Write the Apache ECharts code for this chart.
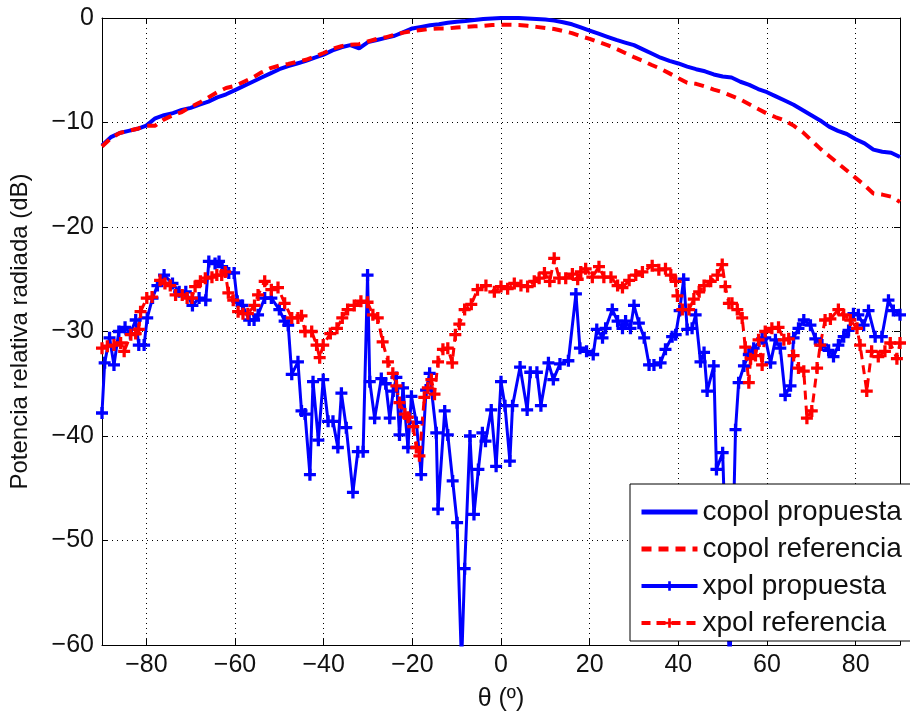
<!DOCTYPE html>
<html>
<head>
<meta charset="utf-8">
<script src="https://cdn.jsdelivr.net/npm/echarts@6/dist/echarts.min.js"></script>
<style>
  html, body { margin: 0; padding: 0; background: #fff; }
  #chart { width: 910px; height: 717px; }
</style>
</head>
<body>
<div id="chart"></div>
<script>
// copol cuts, 2 deg step
var thetaCopol = [-90,-88,-86,-84,-82,-80,-78,-76,-74,-72,-70,-68,-66,-64,-62,-60,-58,-56,-54,-52,
    -50,-48,-46,-44,-42,-40,-38,-36,-34,-32,-30,-28,-26,-24,-22,-20,-18,-16,-14,-12,
    -10,-8,-6,-4,-2,0,2,4,6,8,10,12,14,16,18,20,22,24,26,28,
    30,32,34,36,38,40,42,44,46,48,50,52,54,56,58,60,62,64,66,68,
    70,72,74,76,78,80,82,84,86,88,90];
var copolPropuesta = [-12.2,-11.4,-11.0,-10.8,-10.6,-10.3,-9.6,-9.3,-9.1,-8.8,-8.6,-8.3,-8.0,-7.6,-7.3,-6.9,-6.5,-6.1,-5.7,-5.3,
    -4.9,-4.6,-4.35,-4.1,-3.8,-3.5,-3.1,-2.8,-2.6,-2.9,-2.3,-2.1,-1.9,-1.7,-1.35,-1.0,-0.85,-0.7,-0.6,-0.45,
    -0.35,-0.28,-0.2,-0.1,-0.05,0,0,0,-0.05,-0.1,-0.15,-0.25,-0.4,-0.6,-0.9,-1.2,-1.5,-1.8,-2.1,-2.35,
    -2.6,-3.0,-3.4,-3.8,-4.1,-4.35,-4.65,-4.9,-5.1,-5.4,-5.6,-5.7,-6.1,-6.4,-6.8,-7.1,-7.5,-7.9,-8.3,-8.8,
    -9.3,-9.8,-10.4,-10.8,-11.1,-11.6,-12.0,-12.6,-12.8,-12.9,-13.3];
var copolReferencia = [-12.3,-11.5,-11.0,-10.8,-10.6,-10.3,-10.3,-9.7,-9.3,-9.0,-8.5,-8.1,-7.6,-7.1,-6.7,-6.5,-6.1,-5.7,-5.2,-4.8,
    -4.55,-4.4,-4.2,-4.0,-3.7,-3.35,-2.95,-2.7,-2.55,-2.5,-2.25,-2.0,-1.85,-1.6,-1.4,-1.25,-1.15,-1.05,-1.0,-1.0,
    -0.9,-0.85,-0.8,-0.75,-0.67,-0.65,-0.65,-0.67,-0.75,-0.85,-0.95,-1.05,-1.25,-1.45,-1.75,-2.0,-2.3,-2.6,-2.95,-3.35,
    -3.75,-4.1,-4.5,-4.85,-5.3,-5.75,-6.2,-6.3,-6.55,-6.85,-7.1,-7.45,-7.8,-8.25,-8.7,-9.15,-9.5,-9.8,-10.3,-10.9,
    -11.7,-12.5,-13.2,-13.9,-14.6,-15.3,-16.0,-16.8,-16.9,-17.1,-17.6];

// xpol propuesta
var thetaXpolProp = [-90,-89.4,-88.3,-87.3,-86.2,-84.8,-83.6,-82.4,-81.7,-80.5,-79.8,-78.6,-77.5,-76,-74.1,-72.6,-71.1,-69.6,-68.1,-66.6,
    -65.9,-64.5,-63.6,-62.9,-61.4,-60.2,-59.5,-58.3,-56.8,-55.7,-54.8,-53.3,-51.8,-50,-48.8,-48,-47.2,-45.8,-45,-44.2,
    -43.1,-42.4,-41.2,-40.1,-39,-37.9,-36.8,-36,-34.9,-33.4,-32.3,-31.1,-30.1,-29.6,-28.5,-27,-26,-25.1,-24.3,-23.6,
    -22.9,-22.1,-21,-20.2,-19.1,-18,-16.9,-16.1,-14.6,-14.2,-12.7,-12,-10.9,-9.9,-8.9,-8.2,-7,-6.1,-5.1,-4.2,
    -3.5,-2.2,-1.1,0,0.9,2,2.6,4.3,5.9,6.6,8.1,9,10.7,11.8,13.3,15.2,16.9,17.8,19.3,20.8,
    21.6,22.9,23.6,25.1,26.3,27.4,28.1,29.2,30,31.1,32.3,33.4,34.5,36,37.1,38.6,39.4,40.3,41.2,42,
    43.1,43.9,45,45.8,46.5,48,48.6,50,51.6,52.9,53.6,54.8,55.9,57,58.9,59.6,60.8,61.9,63,64.1,
    65.3,66,67.1,68.3,69.8,70.9,72.4,73.9,75,76.1,77.3,78.4,79.5,80.6,81.8,82.9,84.4,85.9,87.4,88.5,90];
var xpolPropuesta = [-37.8,-33.0,-30.6,-33.2,-30.0,-29.6,-30.2,-28.9,-31.3,-31.3,-28.7,-26.8,-25.6,-24.6,-25.4,-26.2,-26.2,-27.5,-26.8,-27.0,
    -23.3,-23.5,-23.3,-23.8,-24.4,-24.4,-27.1,-27.5,-28.9,-28.9,-28.4,-26.8,-26.8,-27.9,-29.0,-29.4,-34.1,-32.9,-37.6,-37.9,
    -43.7,-34.8,-40.4,-34.6,-38.6,-38.6,-41.1,-35.9,-39.2,-45.4,-41.5,-41.5,-24.6,-34.8,-38.3,-34.5,-35.0,-38.3,-35.7,-34.4,
    -39.9,-35.4,-41.1,-36.2,-38.7,-43.7,-35.6,-34.0,-39.7,-47.0,-37.6,-39.9,-44.3,-48.3,-62,-52.7,-40.0,-47.5,-43.2,-39.7,
    -40.5,-37.5,-42.9,-34.8,-37.1,-42.4,-37.1,-33.4,-37.5,-33.9,-33.9,-37.1,-33.0,-34.6,-33.1,-32.8,-26.4,-31.6,-31.9,-32.2,
    -29.8,-30.6,-29.7,-27.9,-29.0,-29.7,-29.0,-29.7,-27.5,-29.2,-30.6,-33.2,-33.2,-33.0,-31.7,-30.5,-30.3,-28.0,-25.0,-29.8,
    -29.7,-28.4,-32.9,-32.0,-35.7,-33.3,-43.2,-41.6,-63,-39.4,-34.9,-33.3,-32.2,-31.6,-30.7,-30.6,-33.0,-30.8,-31.6,-36.1,
    -35.2,-30.6,-29.7,-28.9,-29.4,-30.7,-31.3,-31.8,-32.4,-31.3,-30.5,-29.9,-28.3,-28.4,-29.4,-28.0,-30.5,-30.5,-27.0,-28.0,-28.4];

// xpol referencia
var thetaXpolRef = [-90,-88.8,-87.3,-85.8,-85,-83.5,-82.4,-81.7,-81.3,-79.9,-78.7,-76.9,-75.8,-74.6,-73.4,-71.9,-70.8,-69.7,-69,-67.8,
    -66.7,-65.2,-64.1,-63,-62.2,-61.5,-60.4,-59.3,-58.2,-57.1,-55.6,-54.8,-53.3,-51.8,-50.3,-48.8,-47.2,-45.8,-45,-44.2,
    -42.7,-41.6,-40.9,-40.1,-38.5,-37,-35.8,-34.6,-33.1,-31.6,-30.1,-28.9,-27.8,-26.7,-25.5,-24.4,-23.6,-22.9,-21.7,-21,
    -19.8,-19.1,-18.4,-17.3,-16.5,-15.7,-15,-14.2,-13.1,-12,-11,-10.3,-9.4,-8.2,-6.7,-5.3,-3.4,-1.5,0,1.5,
    3,4.5,6,7.5,8.6,9.8,11,12,13.1,14.6,16.1,17.3,18,19.1,20.6,22.1,23.2,24.8,26.3,27.4,
    28.9,30.4,31.9,34.1,35.6,37.1,38.3,39.4,39.8,40.9,42.4,43.5,44.7,45.8,47.3,48.8,49.9,50.6,51.4,52.1,
    53.3,54.4,55.1,55.9,56.3,57.4,58.1,58.9,59.6,61.1,62.6,63.8,64.9,66,67.1,68.3,69,70.1,71.3,72,
    73.1,74.3,76.1,77.3,78.8,80.3,81,82.5,83.6,85.1,86.6,87.8,89.3,90];
var xpolReferencia = [-31.6,-31.4,-31.3,-31.1,-31.9,-30.3,-30.2,-29.8,-28.1,-26.8,-26.7,-25.1,-25.4,-25.6,-26.5,-26.5,-26.8,-26.8,-25.7,-25.2,
    -24.9,-24.8,-24.6,-24.6,-24.3,-26.3,-27.0,-28.1,-28.3,-28.3,-27.5,-26.5,-25.2,-26.0,-25.8,-27.3,-28.7,-28.7,-28.5,-30.0,
    -30.0,-31.3,-32.5,-31.3,-30.2,-29.7,-28.7,-27.9,-27.5,-27.1,-27.2,-28.4,-28.7,-31.0,-32.9,-34.0,-35.2,-36.8,-37.9,-38.2,
    -39.1,-41.1,-41.9,-36.3,-35.4,-34.6,-36.0,-32.9,-31.7,-31.6,-33.0,-30.3,-29.3,-27.9,-27.4,-26.0,-25.6,-26.2,-25.7,-25.9,
    -25.4,-25.6,-25.7,-25.2,-24.9,-24.4,-25.2,-23.0,-24.9,-24.9,-24.5,-25.0,-24.3,-24.0,-24.8,-23.8,-24.8,-24.8,-25.6,-25.8,
    -25.1,-24.6,-24.3,-23.7,-24.1,-24.0,-24.6,-25.2,-26.6,-27.9,-27.9,-26.9,-26.2,-25.6,-25.2,-24.6,-23.6,-25.7,-27.3,-27.3,
    -27.9,-28.7,-31.5,-34.9,-32.6,-32.3,-30.8,-33.2,-30.0,-29.7,-29.6,-30.8,-30.7,-32.3,-33.5,-33.8,-38.3,-37.6,-33.5,-31.3,
    -28.9,-28.8,-27.9,-28.4,-28.9,-29.7,-31.3,-35.7,-31.9,-32.4,-31.9,-31.1,-32.6,-31.1];

var seriesNames = ['copol propuesta', 'copol referencia', 'xpol propuesta', 'xpol referencia'];

function pairs(xs, ys) {
    return xs.map(function (x, i) { return [x, ys[i]]; });
}
function minus(v) {
    return String(v).replace('-', '\u2212');
}

var plus = 'path://M4,0H7V4H11V7H7V11H4V7H0V4H4Z';
var font = 'Liberation Sans, Arial, sans-serif';

var chart = echarts.init(document.getElementById('chart'));
var option = {
    animation: false,
    backgroundColor: '#fff',
    textStyle: { fontFamily: font },
    grid: { left: 100, right: 10, top: 18, bottom: 69 },
    legend: {
        orient: 'vertical',
        left: 630,
        top: 484,
        backgroundColor: '#fff',
        borderColor: '#000',
        borderWidth: 1,
        borderRadius: 0,
        padding: [14, 12, 4, 9],
        itemWidth: 56,
        itemHeight: 12,
        itemGap: 9,
        textStyle: { fontSize: 28, color: '#111', fontFamily: font },
        data: [
            { name: seriesNames[0], lineStyle: { width: 5 } },
            { name: seriesNames[1], lineStyle: { width: 5 } },
            { name: seriesNames[2], lineStyle: { width: 4 } },
            { name: seriesNames[3], lineStyle: { width: 4 } }
        ]
    },
    xAxis: [{
        type: 'value', min: -90, max: 90, splitNumber: 9,
        name: 'θ (º)', nameLocation: 'middle', nameGap: 42,
        nameTextStyle: { fontSize: 25, color: '#111' },
        axisLine: { onZero: false, lineStyle: { color: '#000', width: 1 } },
        axisTick: { inside: true, length: 6, lineStyle: { color: '#000' } },
        axisLabel: { fontSize: 25, color: '#111', margin: 8, showMinLabel: false, showMaxLabel: false, formatter: minus },
        splitLine: { show: true, lineStyle: { color: '#000', type: [1, 4], width: 1 } }
    }, {
        type: 'value', min: -90, max: 90, splitNumber: 9, position: 'top',
        axisLine: { onZero: false, lineStyle: { color: '#000', width: 1 } },
        axisTick: { inside: true, length: 6, lineStyle: { color: '#000' } },
        axisLabel: { show: false },
        splitLine: { show: false }
    }],
    yAxis: [{
        type: 'value', min: -60, max: 0, interval: 10,
        name: 'Potencia relativa radiada (dB)', nameLocation: 'middle', nameGap: 70,
        nameTextStyle: { fontSize: 24, color: '#111' },
        axisLine: { onZero: false, lineStyle: { color: '#000', width: 1 } },
        axisTick: { inside: true, length: 6, lineStyle: { color: '#000' } },
        axisLabel: { fontSize: 25, color: '#111', margin: 8, formatter: minus },
        splitLine: { show: true, lineStyle: { color: '#000', type: [1, 4], width: 1 } }
    }, {
        type: 'value', min: -60, max: 0, interval: 10, position: 'right',
        axisLine: { onZero: false, lineStyle: { color: '#000', width: 1 } },
        axisTick: { inside: true, length: 6, lineStyle: { color: '#000' } },
        axisLabel: { show: false },
        splitLine: { show: false }
    }],
    series: [
        {
            name: seriesNames[0], type: 'line', symbol: 'line', showSymbol: false,
            lineStyle: { color: '#0000ff', width: 4 },
            itemStyle: { color: '#0000ff' },
            data: pairs(thetaCopol, copolPropuesta)
        },
        {
            name: seriesNames[1], type: 'line', symbol: 'line', showSymbol: false,
            lineStyle: { color: '#ff0000', width: 4, type: [10, 7] },
            itemStyle: { color: '#ff0000' },
            data: pairs(thetaCopol, copolReferencia)
        },
        {
            name: seriesNames[2], type: 'line', symbol: plus, symbolSize: 12,
            lineStyle: { color: '#0000ff', width: 3 },
            itemStyle: { color: '#0000ff' },
            data: pairs(thetaXpolProp, xpolPropuesta)
        },
        {
            name: seriesNames[3], type: 'line', symbol: plus, symbolSize: 12,
            lineStyle: { color: '#ff0000', width: 3, type: [9, 6] },
            itemStyle: { color: '#ff0000' },
            data: pairs(thetaXpolRef, xpolReferencia)
        }
    ]
};
chart.setOption(option);
window.addEventListener('resize', function () {
    chart.resize();
});
</script>
</body>
</html>
